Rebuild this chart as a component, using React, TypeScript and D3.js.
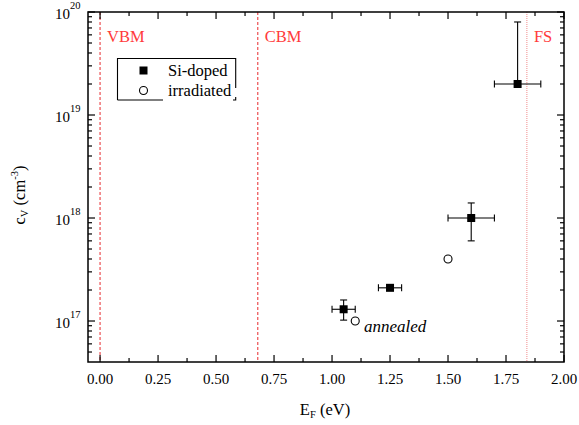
import React from "react";
import * as d3 from "d3";

const xTicks = [0, 0.25, 0.5, 0.75, 1.0, 1.25, 1.5, 1.75, 2.0];
const yExps = [17, 18, 19, 20];
const siE = [1.05, 1.25, 1.6, 1.8];
const siC = [1.3e17, 2.1e17, 1.0e18, 2.0e19];
const siXErr = [0.05, 0.05, 0.1, 0.1];
const siCLow = [1.02e17, 2.1e17, 6.0e17, 2.0e19];
const siCHigh = [1.6e17, 2.1e17, 1.4e18, 8.0e19];
const irrE = [1.1, 1.5];
const irrC = [1.0e17, 4.0e17];
const bandLines = [
  { label: "VBM", e: 0.0 },
  { label: "CBM", e: 0.68 },
];
const fsLine = { label: "FS", e: 1.84 };

const W = 579, H = 425;
const L = 88, R = 564, T = 12, B = 362;
const FONT = "Liberation Serif, DejaVu Serif, serif";
const ts = { fontFamily: FONT };

export default function App() {
  const x = d3.scaleLinear().domain([-0.052, 2.0]).range([L, R]);
  const y = d3.scaleLog().domain([4e16, 1e20]).range([B, T]);

  const minorX: number[] = d3.range(0, 2.0001, 0.125).filter((v) => Math.abs((v / 0.25) - Math.round(v / 0.25)) > 0.01);
  const minorY: number[] = [];
  for (let e = 16; e < 20; e++) {
    for (let m = 2; m <= 9; m++) {
      const v = m * Math.pow(10, e);
      if (v > 4.01e16 && v < 1e20) minorY.push(v);
    }
  }
  const red = "#e8282d";
  const redText = "#ff3b3b";
  const cap = 3.5;

  return (
    <svg width={W} height={H} style={{ position: "absolute", left: 0, top: 0, background: "#fff", fontFamily: FONT }}>
      <rect x={0} y={0} width={W} height={H} fill="#fff" />
      {bandLines.map((b) => (
        <g key={b.label}>
          <line x1={x(b.e)} x2={x(b.e)} y1={T} y2={B} stroke={red} strokeWidth={1} strokeDasharray="3,2" />
          <text style={ts} x={x(b.e) + 7} y={42} fill={redText} fontSize={16.5}>{b.label}</text>
        </g>
      ))}
      <line x1={x(fsLine.e)} x2={x(fsLine.e)} y1={T} y2={B} stroke="#f08a8a" strokeWidth={1} strokeDasharray="1,1" />
      <text style={ts} x={x(fsLine.e) + 7} y={42} fill={redText} fontSize={16.5}>{fsLine.label}</text>

      <rect x={L} y={T} width={R - L} height={B - T} fill="none" stroke="#000" strokeWidth={1.5} />
      {xTicks.map((v) => (
        <g key={"xt" + v}>
          <line x1={x(v)} x2={x(v)} y1={B} y2={B - 7} stroke="#000" strokeWidth={1.2} />
          <line x1={x(v)} x2={x(v)} y1={T} y2={T + 7} stroke="#000" strokeWidth={1.2} />
          <text style={ts} x={x(v)} y={383.5} textAnchor="middle" fontSize={15} fill="#000">{v.toFixed(2)}</text>
        </g>
      ))}
      {minorX.map((v) => (
        <g key={"xm" + v}>
          <line x1={x(v)} x2={x(v)} y1={B} y2={B - 4} stroke="#000" strokeWidth={1.2} />
          <line x1={x(v)} x2={x(v)} y1={T} y2={T + 4} stroke="#000" strokeWidth={1.2} />
        </g>
      ))}
      {yExps.map((e) => {
        const yy = y(Math.pow(10, e));
        return (
          <g key={"yt" + e}>
            <line x1={L} x2={L + 7} y1={yy} y2={yy} stroke="#000" strokeWidth={1.2} />
            <line x1={R} x2={R - 7} y1={yy} y2={yy} stroke="#000" strokeWidth={1.2} />
            <text style={ts} x={70} y={yy + 6.5} textAnchor="end" fontSize={15} fill="#000">10</text>
            <text style={ts} x={70} y={yy - 3} textAnchor="start" fontSize={10.5} fill="#000">{e}</text>
          </g>
        );
      })}
      {minorY.map((v) => (
        <g key={"ym" + v}>
          <line x1={L} x2={L + 4} y1={y(v)} y2={y(v)} stroke="#000" strokeWidth={1.2} />
          <line x1={R} x2={R - 4} y1={y(v)} y2={y(v)} stroke="#000" strokeWidth={1.2} />
        </g>
      ))}

      <text style={ts} x={325} y={415} textAnchor="middle" fontSize={16.5} fill="#000">
        E<tspan fontSize={10.5} dy={3}>F</tspan><tspan dy={-3}> (eV)</tspan>
      </text>
      <g transform={`translate(25,195) rotate(-90)`}>
        <text style={ts} x={0} y={0} textAnchor="middle" fontSize={16.5} fill="#000">
          c<tspan fontSize={10.5} dy={3}>V</tspan><tspan dy={-3}> (cm</tspan><tspan fontSize={10.5} dy={-7}>-3</tspan><tspan dy={7}>)</tspan>
        </text>
      </g>

      {siE.map((e, i) => {
        const cx = x(e), cy = y(siC[i]);
        const x0 = x(e - siXErr[i]), x1 = x(e + siXErr[i]);
        const yl = y(siCLow[i]), yh = y(siCHigh[i]);
        return (
          <g key={"eb" + i} stroke="#000" strokeWidth={1.1}>
            <line x1={x0} x2={x1} y1={cy} y2={cy} />
            <line x1={x0} x2={x0} y1={cy - cap} y2={cy + cap} />
            <line x1={x1} x2={x1} y1={cy - cap} y2={cy + cap} />
            {Math.abs(yl - yh) > 1 && (
              <>
                <line x1={cx} x2={cx} y1={yl} y2={yh} />
                <line x1={cx - cap} x2={cx + cap} y1={yh} y2={yh} />
                {Math.abs(yl - cy) > 1 && <line x1={cx - cap} x2={cx + cap} y1={yl} y2={yl} />}
              </>
            )}
          </g>
        );
      })}
      {siE.map((e, i) => (
        <rect key={"sq" + i} x={x(e) - 4} y={y(siC[i]) - 4} width={8} height={8} fill="#000" />
      ))}
      {irrE.map((e, i) => (
        <circle key={"c" + i} cx={x(e)} cy={y(irrC[i])} r={4} fill="#fff" stroke="#000" strokeWidth={1.1} />
      ))}
      <text style={ts} x={364} y={332} fontSize={17} fontStyle="italic" fill="#000">annealed</text>

      <g stroke="#000" strokeWidth={1.1} fill="none">
        <path d="M117.5,100 V58.5 H235.7 V88" />
        <path d="M117.5,100 H163" />
        <path d="M233,100 H235.7 V97" />
      </g>
      <rect x={139.5} y={66.5} width={8} height={8} fill="#000" />
      <text style={ts} x={168} y={76} fontSize={16.5} fill="#000">Si-doped</text>
      <circle cx={143.5} cy={90.5} r={4} fill="#fff" stroke="#000" strokeWidth={1.1} />
      <text style={ts} x={168} y={96} fontSize={16.5} fill="#000">irradiated</text>
    </svg>
  );
}
